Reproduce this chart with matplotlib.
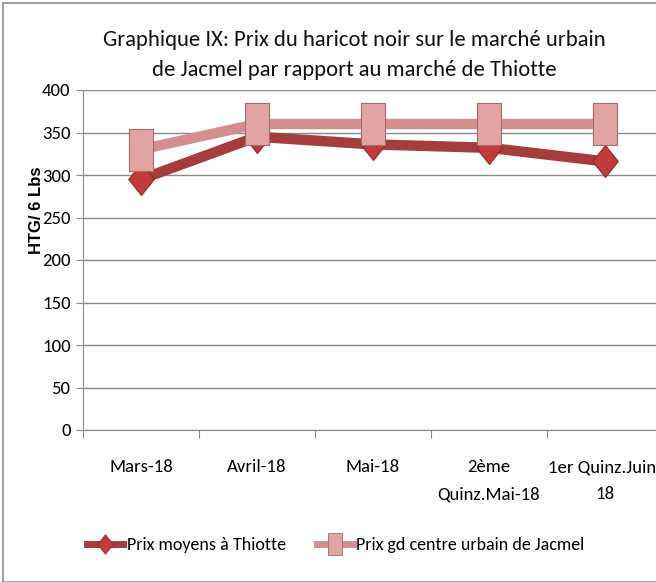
import matplotlib
matplotlib.use("Agg")
import matplotlib.pyplot as plt
from matplotlib.patches import Rectangle
from matplotlib.lines import Line2D

categories = ["Mars-18", "Avril-18", "Mai-18", "2ème\nQuinz.Mai-18", "1er Quinz.Juin-\n18"]
thiotte = [295, 345, 336, 332, 316]
jacmel = [330, 360, 360, 360, 360]
yticks = [0, 50, 100, 150, 200, 250, 300, 350, 400]
title = "Graphique IX: Prix du haricot noir sur le marché urbain\nde Jacmel par rapport au marché de Thiotte"
ylabel = "HTG/ 6 Lbs"
labels = ["Prix moyens à Thiotte", "Prix gd centre urbain de Jacmel"]

FONT = ["Carlito", "DejaVu Sans"]
plt.rcParams['font.family'] = FONT

W, H = 656, 582
fig = plt.figure(figsize=(W/100, H/100), dpi=100)
fig.patch.set_facecolor("white")

# outer chart border
fig.add_artist(Rectangle((3/W, 0), 1 - 3/W + 0.01, 1 - 3/H, transform=fig.transFigure,
                         fill=False, edgecolor="#8c8c8c", lw=1.2))

left, right, top, bottom = 83, 663, 90, 430
ax = fig.add_axes([left/W, 1 - bottom/H, (right-left)/W, (bottom-top)/H])
ax.set_facecolor("white")

x = list(range(len(categories)))
diamond = [(0, 0.5), (0.4, 0), (0, -0.5), (-0.4, 0), (0, 0.5)]
rect = [(-0.3, -0.5), (0.3, -0.5), (0.3, 0.5), (-0.3, 0.5), (-0.3, -0.5)]

ax.plot(x, thiotte, color="#A63D3D", lw=7.5, marker=diamond, markersize=23,
        markerfacecolor="#C23A3A", markeredgecolor="#8E2A2A", markeredgewidth=0.8,
        solid_capstyle="butt", zorder=3)
ax.plot(x, jacmel, color="#D48E8E", lw=7.5, marker=rect, markersize=30,
        markerfacecolor="#E2A3A3", markeredgecolor="#A86A6A", markeredgewidth=0.8,
        solid_capstyle="butt", zorder=4)

ax.set_xlim(-0.5, len(categories) - 0.5)
ax.set_ylim(0, 400)
ax.set_yticks(yticks)
ax.yaxis.grid(True, color="#8a8a8a", lw=1)
ax.set_axisbelow(True)
for s in ["top", "right"]:
    ax.spines[s].set_visible(False)
for s in ["left", "bottom"]:
    ax.spines[s].set_color("#8a8a8a")
ax.tick_params(axis="y", length=5, color="#8a8a8a", labelsize=13.5, pad=4)

# category boundary ticks (major) and labels at centers (minor)
ax.set_xticks([i - 0.5 for i in range(len(categories) + 1)])
ax.set_xticklabels([])
ax.tick_params(axis="x", which="major", length=6, color="#8a8a8a", direction="out")
ax.set_xticks(x, minor=True)
ax.set_xticklabels(categories, minor=True, fontsize=13.5, linespacing=1.85)
ax.tick_params(axis="x", which="minor", length=0, pad=21)

ax.set_ylabel(ylabel, fontsize=12, fontweight="bold", family=["Liberation Sans", "DejaVu Sans"],
              labelpad=8)
ax.yaxis.set_label_coords(-0.067, (430 - 210) / 340)

fig.text(0.54, 1 - 55/H, title, ha="center", va="center", fontsize=16.3,
         linespacing=1.6, color="#111111")

h1 = Line2D([], [], color="#A63D3D", lw=5, marker=diamond, markersize=14,
            markerfacecolor="#C23A3A", markeredgecolor="#8E2A2A", markeredgewidth=0.6)
h2 = Line2D([], [], color="#D48E8E", lw=5, marker=rect, markersize=16,
            markerfacecolor="#E2A3A3", markeredgecolor="#A86A6A", markeredgewidth=0.6)
fig.legend([h1, h2], labels, loc="center", bbox_to_anchor=(0.512, 1 - 545/H), ncol=2,
           frameon=False, fontsize=13, handlelength=2.0, handletextpad=0.2, columnspacing=1.7)

fig.savefig("out.png", dpi=100, facecolor="white")
